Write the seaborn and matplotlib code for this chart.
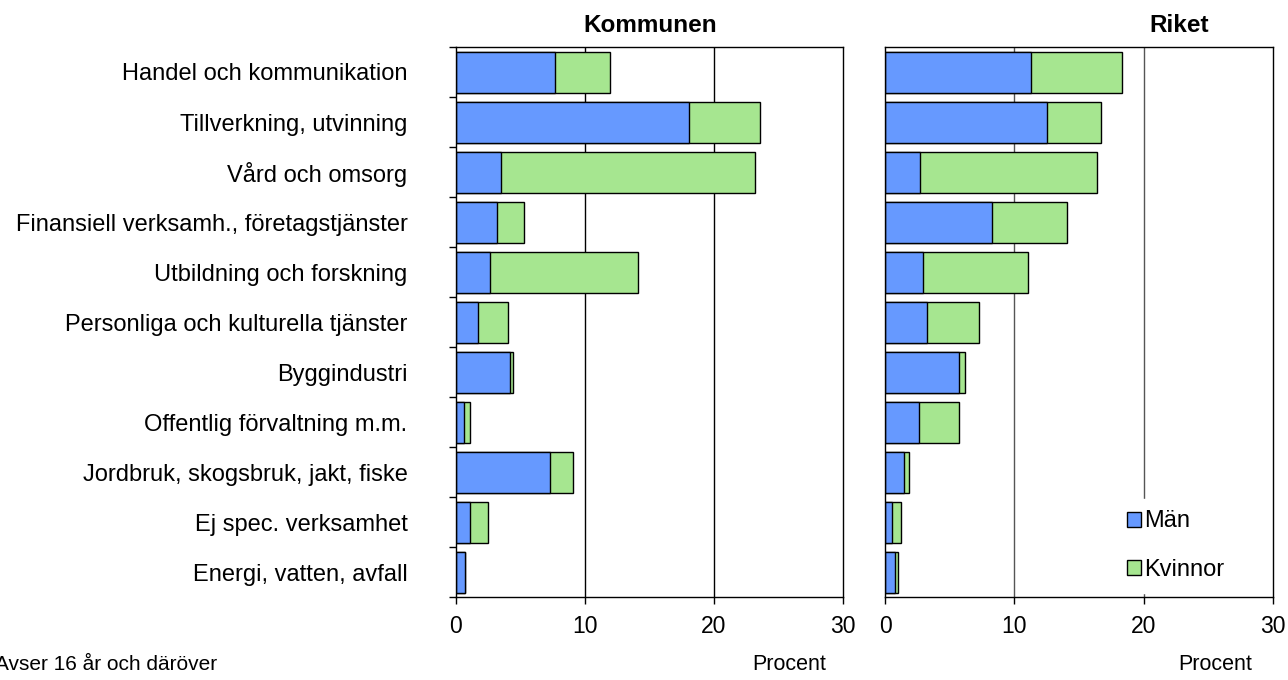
import matplotlib.pyplot as plt
import pandas as pd
import seaborn as sns

categories = [
    "Handel och kommunikation",
    "Tillverkning, utvinning",
    "Vård och omsorg",
    "Finansiell verksamh., företagstjänster",
    "Utbildning och forskning",
    "Personliga och kulturella tjänster",
    "Byggindustri",
    "Offentlig förvaltning m.m.",
    "Jordbruk, skogsbruk, jakt, fiske",
    "Ej spec. verksamhet",
    "Energi, vatten, avfall",
]

kommun_man = [7.65, 18.05, 3.45, 3.15, 2.6, 1.7, 4.15, 0.65, 7.25, 1.05, 0.7]
kommun_kvinnor = [4.3, 5.55, 19.75, 2.15, 11.5, 2.3, 0.3, 0.4, 1.85, 1.45, 0.02]

riket_man = [11.3, 12.5, 2.7, 8.25, 2.95, 3.25, 5.7, 2.6, 1.5, 0.55, 0.75]
riket_kvinnor = [7.05, 4.2, 13.7, 5.8, 8.1, 4.0, 0.5, 3.15, 0.35, 0.7, 0.25]

BLUE = "#6699FF"
GREEN = "#A6E690"

sns.set_style("white")
plt.rcParams["font.family"] = ["Liberation Sans", "DejaVu Sans"]
plt.rcParams["text.color"] = "black"
plt.rcParams["xtick.color"] = "black"
plt.rcParams["ytick.color"] = "black"

fig = plt.figure(figsize=(12.88, 6.8), dpi=100)
ax1 = fig.add_axes([456 / 1288, 1 - 597 / 680, 387 / 1288, 550 / 680])
ax2 = fig.add_axes([885 / 1288, 1 - 597 / 680, 388 / 1288, 550 / 680])


def draw_panel(ax, man, kvinnor, grid_color):
    df = pd.DataFrame({
        "kategori": categories,
        "Män": man,
        "total": [m + k for m, k in zip(man, kvinnor)],
    })
    ax.set_axisbelow(True)
    for v in (10, 20):
        ax.axvline(v, color=grid_color, lw=1, zorder=0)
    sns.barplot(data=df, y="kategori", x="total", color=GREEN, ax=ax,
                width=0.82, edgecolor="black", linewidth=1, saturation=1,
                label="Kvinnor")
    sns.barplot(data=df, y="kategori", x="Män", color=BLUE, ax=ax,
                width=0.82, edgecolor="black", linewidth=1, saturation=1,
                label="Män")
    if ax.get_legend() is not None:
        ax.get_legend().remove()
    ax.set_xlim(0, 30)
    ax.set_ylim(len(categories) - 0.5, -0.5)
    ax.set_xticks([0, 10, 20, 30])
    ax.set_xlabel("")
    ax.set_ylabel("")
    for s in ax.spines.values():
        s.set_visible(True)
        s.set_color("black")
        s.set_linewidth(1)
    ax.tick_params(axis="x", direction="out", length=5, width=1,
                   bottom=True, labelsize=16.5, pad=8, colors="black")


draw_panel(ax1, kommun_man, kommun_kvinnor, "black")
draw_panel(ax2, riket_man, riket_kvinnor, "#555555")

fig.text(650 / 1288, 1 - 25 / 680, "Kommunen", fontsize=17.5, fontweight="bold",
         ha="center", va="center")
fig.text(1179 / 1288, 1 - 25 / 680, "Riket", fontsize=17.5, fontweight="bold",
         ha="center", va="center")

# left panel: tick marks between categories, labels centred on bars
ax1.set_yticks(range(len(categories)))
ax1.set_yticklabels(categories, fontsize=17)
ax1.tick_params(axis="y", which="major", length=0, pad=35)
ax1.set_yticks([i - 0.5 for i in range(len(categories) + 1)], minor=True)
ax1.tick_params(axis="y", which="minor", left=True, length=5, width=1, direction="out")

ax2.set_yticks([])

handles, labels = ax2.get_legend_handles_labels()
order = [labels.index("Män"), labels.index("Kvinnor")]
leg = ax2.legend([handles[i] for i in order], [labels[i] for i in order],
                 loc="lower left", bbox_to_anchor=((1115 - 885) / 388, 0.008),
                 frameon=True, fontsize=17, handlelength=0.6, handleheight=0.6,
                 handletextpad=0.15, labelspacing=1.12, borderpad=0.5,
                 borderaxespad=0)
leg.get_frame().set_edgecolor("white")
leg.get_frame().set_facecolor("white")
leg.get_frame().set_alpha(1)

fig.text(-0.004, 1 - 665 / 680, "Avser 16 år och däröver", fontsize=15, va="center")
fig.text(789 / 1288, 1 - 665 / 680, "Procent", fontsize=15.5, va="center", ha="center")
fig.text(1215 / 1288, 1 - 665 / 680, "Procent", fontsize=15.5, va="center", ha="center")

fig.savefig("out.png", dpi=100)
